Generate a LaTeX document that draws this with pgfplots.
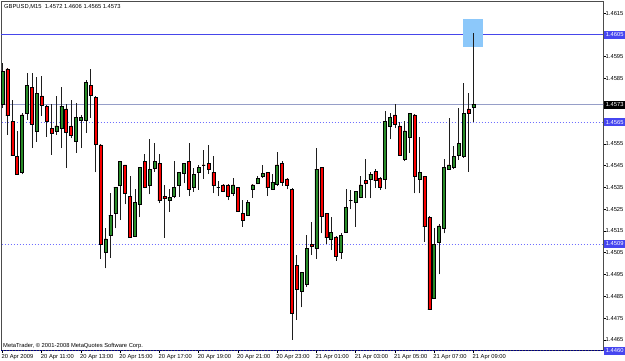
\documentclass[border=0pt]{standalone}
\usepackage{pgfplots}
\pgfplotsset{compat=1.18}
\usepackage{pgfplotstable}
\usepackage{fontspec}
\setmainfont{Liberation Sans}
\definecolor{bull}{RGB}{40,140,40}
\definecolor{bear}{RGB}{250,0,0}
\definecolor{wick}{RGB}{30,30,30}
\definecolor{hilite}{RGB}{140,200,250}
\definecolor{selline}{RGB}{70,70,235}
\definecolor{bidline}{RGB}{150,158,200}
\definecolor{dotline}{RGB}{110,110,255}
\definecolor{boxblue}{RGB}{70,70,240}
\definecolor{navyline}{RGB}{0,0,128}
\newcommand{\tf}{\fontsize{5.8}{6.5}\selectfont}
\begin{document}
\pgfplotstableread{
i o h l c
0 1.45732 1.45921 1.45715 1.45881
1 1.45894 1.45900 1.45591 1.45679
2 1.45652 1.45751 1.45497 1.45499
3 1.45491 1.45609 1.45407 1.45411
4 1.45419 1.45693 1.45410 1.45683
5 1.45690 1.45874 1.45660 1.45820
6 1.45810 1.45874 1.45530 1.45640
7 1.45609 1.45858 1.45560 1.45782
8 1.45770 1.45862 1.45678 1.45728
9 1.45721 1.45728 1.45583 1.45652
10 1.45621 1.45732 1.45499 1.45598
11 1.45609 1.45770 1.45591 1.45632
12 1.45621 1.45810 1.45530 1.45721
13 1.45710 1.45732 1.45440 1.45601
14 1.45632 1.45751 1.45575 1.45591
15 1.45560 1.45739 1.45509 1.45672
16 1.45660 1.45683 1.45530 1.45673
17 1.45660 1.45843 1.45601 1.45831
18 1.45820 1.45892 1.45670 1.45771
19 1.45762 1.45770 1.45419 1.45549
20 1.45545 1.45547 1.45021 1.45090
21 1.45050 1.45162 1.44978 1.45113
22 1.45128 1.45323 1.45026 1.45223
23 1.45231 1.45353 1.45162 1.45350
24 1.45361 1.45473 1.45200 1.45471
25 1.45453 1.45455 1.45272 1.45323
26 1.45310 1.45404 1.45119 1.45121
27 1.45127 1.45341 1.45123 1.45281
28 1.45272 1.45442 1.45212 1.45440
29 1.45471 1.45502 1.45346 1.45350
30 1.45361 1.45571 1.45318 1.45433
31 1.45438 1.45552 1.45422 1.45471
32 1.45461 1.45502 1.45277 1.45289
33 1.45310 1.45361 1.45119 1.45300
34 1.45289 1.45341 1.45238 1.45303
35 1.45307 1.45471 1.45300 1.45350
36 1.45361 1.45421 1.45307 1.45419
37 1.45415 1.45463 1.45369 1.45461
38 1.45471 1.45552 1.45310 1.45341
39 1.45350 1.45438 1.45330 1.45411
40 1.45419 1.45453 1.45338 1.45440
41 1.45453 1.45522 1.45389 1.45453
42 1.45461 1.45545 1.45411 1.45433
43 1.45419 1.45494 1.45323 1.45361
44 1.45350 1.45381 1.45310 1.45350
45 1.45361 1.45364 1.45328 1.45330
46 1.45361 1.45364 1.45292 1.45310
47 1.45323 1.45392 1.45310 1.45361
48 1.45350 1.45353 1.45236 1.45238
49 1.45231 1.45292 1.45169 1.45200
50 1.45220 1.45292 1.45218 1.45280
51 1.45341 1.45364 1.45303 1.45361
52 1.45369 1.45402 1.45364 1.45392
53 1.45399 1.45453 1.45392 1.45415
54 1.45419 1.45422 1.45310 1.45350
55 1.45341 1.45411 1.45338 1.45372
56 1.45364 1.45511 1.45358 1.45453
57 1.45461 1.45471 1.45358 1.45372
58 1.45389 1.45392 1.45341 1.45361
59 1.45341 1.45346 1.44650 1.44772
60 1.44990 1.45039 1.44741 1.44882
61 1.44871 1.44962 1.44799 1.44960
62 1.44905 1.45131 1.44894 1.45070
63 1.45090 1.45192 1.45039 1.45081
64 1.45070 1.45530 1.45023 1.45433
65 1.45440 1.45442 1.45139 1.45219
66 1.45231 1.45233 1.45089 1.45121
67 1.45112 1.45212 1.45062 1.45142
68 1.45123 1.45128 1.45012 1.45032
69 1.45050 1.45139 1.45020 1.45131
70 1.45142 1.45343 1.45141 1.45259
71 1.45292 1.45338 1.45249 1.45292
72 1.45280 1.45335 1.45169 1.45330
73 1.45303 1.45402 1.45300 1.45361
74 1.45381 1.45480 1.45303 1.45369
75 1.45389 1.45422 1.45300 1.45411
76 1.45422 1.45434 1.45349 1.45381
77 1.45392 1.45399 1.45338 1.45349
78 1.45389 1.45701 1.45341 1.45652
79 1.45632 1.45690 1.45571 1.45672
80 1.45683 1.45732 1.45621 1.45640
81 1.45632 1.45652 1.45497 1.45499
82 1.45479 1.45655 1.45471 1.45609
83 1.45580 1.45692 1.45509 1.45690
84 1.45683 1.45686 1.45323 1.45399
85 1.45389 1.45580 1.45323 1.45419
86 1.45402 1.45404 1.45100 1.45169
87 1.45212 1.45219 1.44787 1.44791
88 1.44840 1.45162 1.44838 1.45090
89 1.45100 1.45180 1.44951 1.45173
90 1.45162 1.45479 1.45139 1.45440
91 1.45433 1.45670 1.45430 1.45453
92 1.45440 1.45542 1.45434 1.45491
93 1.45499 1.45713 1.45476 1.45552
94 1.45491 1.45831 1.45486 1.45690
95 1.45710 1.45782 1.45422 1.45690
96 1.4572 1.4606 1.4565 1.4573
}\candles
\begin{tikzpicture}
\useasboundingbox (0,0) rectangle (625pt,361pt);
\begin{axis}[
  at={(1pt,10.3pt)}, anchor=south west,
  scale only axis, width=602pt, height=349.7pt,
  xmin=-0.306, xmax=122.4, ymin=1.4460, ymax=1.46206,
  clip mode=individual,
  axis line style={draw=black!70, line width=0.7pt},
  tick align=outside, major tick length=2.5pt,
  tick style={black, line width=0.6pt},
  xtick pos=left, ytick pos=right, yticklabel pos=right,
  xtick={0,8,16,24,32,40,48,56,64,72,80,88,96},
  xticklabels={20 Apr 2009,20 Apr 11:00,20 Apr 13:00,20 Apr 15:00,20 Apr 17:00,20 Apr 19:00,20 Apr 21:00,20 Apr 23:00,21 Apr 01:00,21 Apr 03:00,21 Apr 05:00,21 Apr 07:00,21 Apr 09:00},
  xticklabel style={font=\tf, anchor=north west, inner sep=0pt, xshift=-1pt, yshift=-1.5pt},
  ytick={1.4465,1.4475,1.4485,1.4495,1.4505,1.4515,1.4525,1.4535,1.4545,1.4555,1.4585,1.4595,1.4615},
  yticklabels={1.4465,1.4475,1.4485,1.4495,1.4505,1.4515,1.4525,1.4535,1.4545,1.4555,1.4585,1.4595,1.4615},
  yticklabel style={font=\tf, anchor=west, inner sep=0pt, xshift=0pt},
]
% horizontal price lines
\addplot[selline, line width=1pt] coordinates {(-2,1.4605) (130,1.4605)};
\addplot[bidline, line width=0.9pt] coordinates {(-2,1.4573) (130,1.4573)};
\addplot[dotline, line width=0.9pt, dash pattern=on 1.5pt off 1.5pt] coordinates {(-2,1.4565) (130,1.4565)};
\addplot[dotline, line width=0.9pt, dash pattern=on 1.5pt off 1.5pt] coordinates {(-2,1.4509) (130,1.4509)};
% highlight box around last high
\addplot[draw=none, fill=hilite] coordinates {(93.93,1.45994) (97.88,1.45994) (97.88,1.46124) (93.93,1.46124)} -- cycle;
% wicks
\addplot[draw=none, mark=none, error bars/.cd, y dir=plus, y explicit, error mark=none,
  error bar style={draw=wick, solid, line width=0.8pt}]
  table[x=i, y=l, y error expr=\thisrow{h}-\thisrow{l}] {\candles};
% bodies
\addplot[ybar, bar width=3pt, bar shift=0pt, stack plots=y, draw=none, fill=none]
  table[x=i, y expr={min(\thisrow{o},\thisrow{c})}] {\candles};
\addplot[ybar, bar width=3pt, bar shift=0pt, stack plots=y, draw=black, line width=0.6pt, fill=bull]
  table[x=i, y expr={max(\thisrow{c}-\thisrow{o},0)}] {\candles};
\addplot[ybar, bar width=3pt, bar shift=0pt, stack plots=y, draw=black, line width=0.6pt, fill=bear]
  table[x=i, y expr={max(\thisrow{o}-\thisrow{c},0)}] {\candles};
% bottom dotted line
\draw[navyline, line width=0.9pt, dash pattern=on 1.5pt off 1.5pt] (rel axis cs:0,0) -- (rel axis cs:1,0);
% price label boxes
\node[fill=boxblue, text=white, font=\tf, anchor=west, inner sep=0pt, minimum height=8pt, minimum width=21pt, xshift=1pt] at (axis cs:122.4,1.4605) {1.4605};
\node[fill=black, text=white, font=\tf, anchor=west, inner sep=0pt, minimum height=8pt, minimum width=21pt, xshift=1pt] at (axis cs:122.4,1.4573) {1.4573};
\node[fill=boxblue, text=white, font=\tf, anchor=west, inner sep=0pt, minimum height=8pt, minimum width=21pt, xshift=1pt] at (axis cs:122.4,1.4565) {1.4565};
\node[fill=boxblue, text=white, font=\tf, anchor=west, inner sep=0pt, minimum height=8pt, minimum width=21pt, xshift=1pt] at (axis cs:122.4,1.4509) {1.4509};
\node[fill=boxblue, text=white, font=\tf, anchor=west, inner sep=0pt, minimum height=8pt, minimum width=21pt, xshift=1pt] at (axis cs:122.4,1.4460) {1.4460};
% texts
\node[font=\tf, anchor=west, inner sep=0pt, xshift=3pt, yshift=-5.5pt] at (rel axis cs:0,1) {GBPUSD,M15\ \ 1.4572 1.4606 1.4565 1.4573};
\node[font=\tf, anchor=west, inner sep=0pt, xshift=2pt, yshift=5pt] at (rel axis cs:0,0) {MetaTrader, \textcopyright\ 2001-2008 MetaQuotes Software Corp.};
\end{axis}
\end{tikzpicture}
\end{document}
